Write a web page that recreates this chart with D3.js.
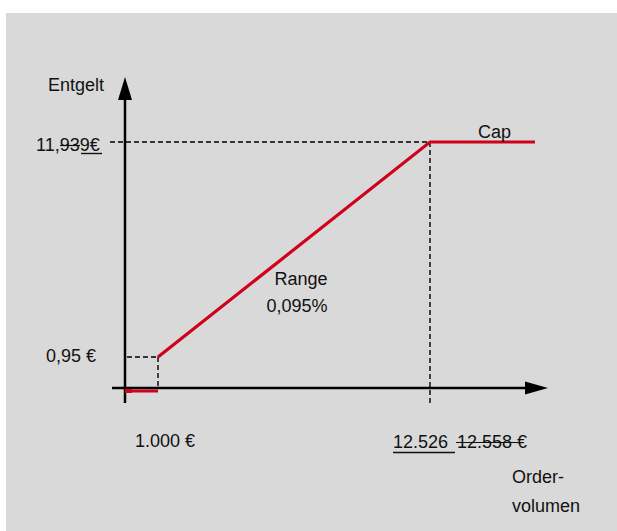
<!DOCTYPE html>
<html><head><meta charset="utf-8">
<script src="https://cdn.jsdelivr.net/npm/d3@7"></script>
<style>html,body{margin:0;padding:0;background:#fff;}svg{display:block;}text{font-family:"Liberation Sans",Arial,sans-serif;font-size:18px;fill:#111;}</style>
</head><body>
<script>
// Data (schematic: order volume in €, fee in €)
const orderVolumes = [0, 1000, 12526, 16000];       // x breakpoints (last = end of cap line)
const fees = [0, 0.95, 11.939];                       // y breakpoints
const floorSeg = [[0, 0], [1000, 0]];
const rangeSeg = [[1000, 0.95], [12526, 11.939], [16000, 11.939]];
const xTickLabels = ["1.000 €", "12.526", "12.558 €"];
const yTickLabels = ["0,95 €", "11,939€"];
const labels = {y: "Entgelt", x1: "Order-", x2: "volumen", cap: "Cap", range1: "Range", range2: "0,095%"};

const W = 617, H = 531;
const svg = d3.select("body").append("svg").attr("width", W).attr("height", H);
svg.append("rect").attr("x", 6).attr("y", 13).attr("width", W - 6).attr("height", H - 13).attr("fill", "#d9d9d9");

// piecewise (schematic) scales
const x = d3.scaleLinear().domain(orderVolumes).range([125, 158, 430, 535]);
const y = d3.scaleLinear().domain(fees).range([388, 357, 142]);

const red = "#d0021b";
// dashed guides
const dash = "5,3";
const g = svg.append("g").attr("stroke", "#000").attr("stroke-width", 1.4).attr("stroke-dasharray", dash).attr("fill", "none");
g.append("line").attr("x1", 110).attr("x2", x(12526)).attr("y1", y(11.939)).attr("y2", y(11.939));
g.append("line").attr("x1", x(12526)).attr("x2", x(12526)).attr("y1", y(11.939)).attr("y2", 403);
g.append("line").attr("x1", x(0) + 2).attr("x2", x(1000)).attr("y1", y(0.95)).attr("y2", y(0.95));
g.append("line").attr("x1", x(1000)).attr("x2", x(1000)).attr("y1", y(0.95)).attr("y2", y(0));

// axes
const ax = svg.append("g").attr("stroke", "#000").attr("stroke-width", 2.5);
ax.append("line").attr("x1", x(0)).attr("x2", x(0)).attr("y1", 403).attr("y2", 98);
ax.append("line").attr("x1", 112).attr("x2", 528).attr("y1", y(0)).attr("y2", y(0));
svg.append("path").attr("d", `M${x(0)},77 L${x(0) - 7},100 L${x(0) + 7},100 Z`).attr("fill", "#000");
svg.append("path").attr("d", `M548,${y(0)} L525,${y(0) - 6.5} L525,${y(0) + 6.5} Z`).attr("fill", "#000");

// red fee line
const line = d3.line().x(d => x(d[0])).y(d => y(d[1]));
svg.append("path").attr("d", line(floorSeg)).attr("transform", "translate(0,3)")
  .attr("stroke", red).attr("stroke-width", 3.2).attr("fill", "none");
svg.append("rect").attr("x", x(0)).attr("y", y(0) + 1).attr("width", 7).attr("height", 4).attr("fill", red);
svg.append("path").attr("d", line(rangeSeg)).attr("stroke", red).attr("stroke-width", 3.2).attr("fill", "none");

// labels
svg.append("text").attr("x", 48).attr("y", 91).text(labels.y);
svg.append("text").attr("x", 46).attr("y", 362).text(yTickLabels[0]);
// 11,939€ with edit marks
svg.append("text").attr("x", 36).attr("y", 151).text(yTickLabels[1]);
svg.append("line").attr("x1", 60).attr("x2", 80).attr("y1", 145.5).attr("y2", 145.5).attr("stroke", "#111").attr("stroke-width", 1.2);
svg.append("line").attr("x1", 81).attr("x2", 102).attr("y1", 153.5).attr("y2", 153.5).attr("stroke", "#111").attr("stroke-width", 1.4);

svg.append("text").attr("x", 135).attr("y", 447).text(xTickLabels[0]);
svg.append("text").attr("x", 393).attr("y", 448).text(xTickLabels[1]);
svg.append("line").attr("x1", 393).attr("x2", 455).attr("y1", 452.5).attr("y2", 452.5).attr("stroke", "#111").attr("stroke-width", 1.4);
svg.append("text").attr("x", 457).attr("y", 448).text(xTickLabels[2]);
svg.append("line").attr("x1", 456).attr("x2", 522).attr("y1", 442.5).attr("y2", 442.5).attr("stroke", "#111").attr("stroke-width", 1.2);

svg.append("text").attr("x", 512).attr("y", 483).text(labels.x1);
svg.append("text").attr("x", 512).attr("y", 512).text(labels.x2);
svg.append("text").attr("x", 478).attr("y", 138).text(labels.cap);
svg.append("text").attr("x", 301).attr("y", 285).attr("text-anchor", "middle").text(labels.range1);
svg.append("text").attr("x", 297).attr("y", 312).attr("text-anchor", "middle").text(labels.range2);
</script>
</body></html>
